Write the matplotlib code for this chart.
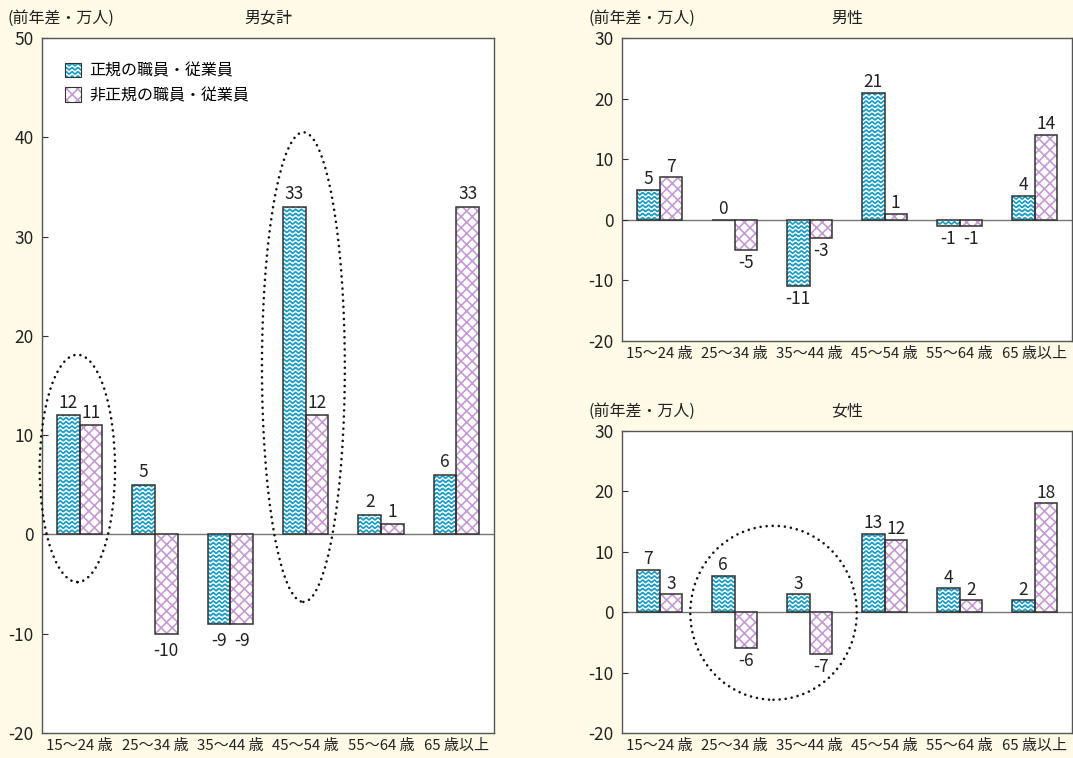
"""
Year-on-year change in employees by age group (regular vs non-regular),
for all workers, men and women.
"""

import warnings

import numpy as np
import matplotlib
matplotlib.use("Agg")
import matplotlib.pyplot as plt
from matplotlib import hatch as mhatch
from matplotlib.path import Path
from matplotlib.patches import Ellipse, Patch
from matplotlib.legend_handler import HandlerTuple

warnings.filterwarnings("ignore")

# -----------------------------
# Data
# -----------------------------

age_groups = ["15～24 歳", "25～34 歳", "35～44 歳", "45～54 歳", "55～64 歳", "65 歳以上"]
series_names = ["正規の職員・従業員", "非正規の職員・従業員"]

total_regular = [12, 5, -9, 33, 2, 6]
total_nonregular = [11, -10, -9, 12, 1, 33]

male_regular = [5, 0, -11, 21, -1, 4]
male_nonregular = [7, -5, -3, 1, -1, 14]

female_regular = [7, 6, 3, 13, 4, 2]
female_nonregular = [3, -6, -7, 12, 2, 18]

# -----------------------------
# Styling
# -----------------------------

BG = "#fffbe6"
BLUE = "#1a9ec6"
PINK = "#c59ad2"
EDGE = "#333333"
TEXT = "#222222"

plt.rcParams["font.family"] = ["Noto Sans CJK JP", "DejaVu Sans"]
plt.rcParams["axes.unicode_minus"] = False
plt.rcParams["hatch.linewidth"] = 1.2


class WaveHatch(mhatch.HatchPatternBase):
    """Horizontal wavy lines, selected with the 'w' hatch character."""

    periods = 17
    pts_per_period = 8

    def __init__(self, hatch, density):
        self.num_lines = int(hatch.count("w") * density)
        self.num_pts = self.periods * self.pts_per_period + 1
        self.num_vertices = self.num_lines * self.num_pts

    def set_vertices_and_codes(self, vertices, codes):
        xs = np.linspace(0, 1, self.num_pts)
        amp = 0.28 / max(self.num_lines, 1)
        for i in range(self.num_lines):
            y0 = (i + 0.5) / self.num_lines
            sl = slice(i * self.num_pts, (i + 1) * self.num_pts)
            vertices[sl, 0] = xs
            vertices[sl, 1] = y0 + amp * np.sin(2 * np.pi * self.periods * xs)
            codes[sl] = Path.LINETO
            codes[i * self.num_pts] = Path.MOVETO


mhatch._hatch_types.append(WaveHatch)

WAVE = "wwww"
CROSS = "xxx"


def draw_panel(ax, regular, nonregular, ylim):
    """Draw one grouped bar panel with value labels."""
    x = np.arange(len(age_groups))
    w = 0.3
    for vals, off, color, hatch in [(regular, -w / 2, BLUE, WAVE),
                                    (nonregular, w / 2, PINK, CROSS)]:
        ax.bar(x + off, vals, w, facecolor="white", edgecolor=color,
               hatch=hatch, linewidth=0, zorder=2)
        ax.bar(x + off, vals, w, fill=False, edgecolor=EDGE,
               linewidth=1.1, zorder=3)
        span = ylim[1] - ylim[0]
        for xi, v in zip(x + off, vals):
            if v >= 0:
                ax.text(xi, v + span * 0.005, str(v), ha="center", va="bottom",
                        fontsize=12.5, color=TEXT)
            else:
                ax.text(xi, v - span * 0.012, str(v), ha="center", va="top",
                        fontsize=12.5, color=TEXT)

    ax.axhline(0, color="#777777", linewidth=1.0, zorder=1)
    ax.set_xlim(-0.5, len(age_groups) - 0.5)
    ax.set_ylim(*ylim)
    ax.set_yticks(np.arange(ylim[0], ylim[1] + 1, 10))
    ax.set_xticks(x)
    ax.set_xticklabels(age_groups, fontsize=10.8, color=TEXT)
    ax.tick_params(axis="x", length=0, pad=4)
    ax.tick_params(axis="y", direction="in", length=4, labelsize=12.5,
                   labelcolor=TEXT, color=EDGE, pad=6)
    ax.set_facecolor("white")
    for side in ["left", "right", "bottom", "top"]:
        ax.spines[side].set_color("#555555")
        ax.spines[side].set_linewidth(1.0)


def dotted_ellipse(ax, cx, cy, w, h):
    ax.add_patch(Ellipse((cx, cy), w, h, fill=False, edgecolor="#111111",
                         linewidth=1.9, linestyle=(0, (0.01, 2.3)),
                         capstyle="round", zorder=4, clip_on=False))


# -----------------------------
# Figure
# -----------------------------

def main():
    fig = plt.figure(figsize=(10.73, 7.58), dpi=100, facecolor=BG)

    ax_total = fig.add_axes([0.0391, 0.033, 0.4213, 0.9169])
    ax_male = fig.add_axes([0.5797, 0.5501, 0.4194, 0.3997])
    ax_female = fig.add_axes([0.5797, 0.033, 0.4194, 0.3984])

    draw_panel(ax_total, total_regular, total_nonregular, (-20, 50))
    draw_panel(ax_male, male_regular, male_nonregular, (-20, 30))
    draw_panel(ax_female, female_regular, female_nonregular, (-20, 30))

    # Highlighted groups
    dotted_ellipse(ax_total, -0.03, 6.65, 1.0, 22.9)
    dotted_ellipse(ax_total, 2.97, 16.85, 1.1, 47.3)
    dotted_ellipse(ax_female, 1.52, -0.1, 2.22, 28.8)

    # Panel headings
    for y_px, name, ax in [(18, "男女計", ax_total), (18, "男性", ax_male),
                           (411, "女性", ax_female)]:
        pos = ax.get_position()
        fy = 1 - y_px / 758
        fig.text(pos.x0 - 34 / 1073, fy, "(前年差・万人)", fontsize=11.5,
                 color=TEXT, ha="left", va="center")
        fig.text((pos.x0 + pos.x1) / 2, fy, name, fontsize=11.5,
                 color=TEXT, ha="center", va="center")

    # Legend
    handles = [
        (Patch(facecolor="white", edgecolor=BLUE, hatch=WAVE, linewidth=0),
         Patch(fill=False, edgecolor=EDGE, linewidth=0.8)),
        (Patch(facecolor="white", edgecolor=PINK, hatch=CROSS, linewidth=0),
         Patch(fill=False, edgecolor=EDGE, linewidth=0.8)),
    ]
    ax_total.legend(handles, series_names, loc="upper left",
                    bbox_to_anchor=(0.02, 0.985), frameon=False,
                    fontsize=11.5, handlelength=1.0, handleheight=1.0,
                    handletextpad=0.5, labelspacing=0.45,
                    handler_map={tuple: HandlerTuple(ndivide=1, pad=0)})

    fig.savefig("out.png", dpi=100, facecolor=BG)


if __name__ == "__main__":
    main()
